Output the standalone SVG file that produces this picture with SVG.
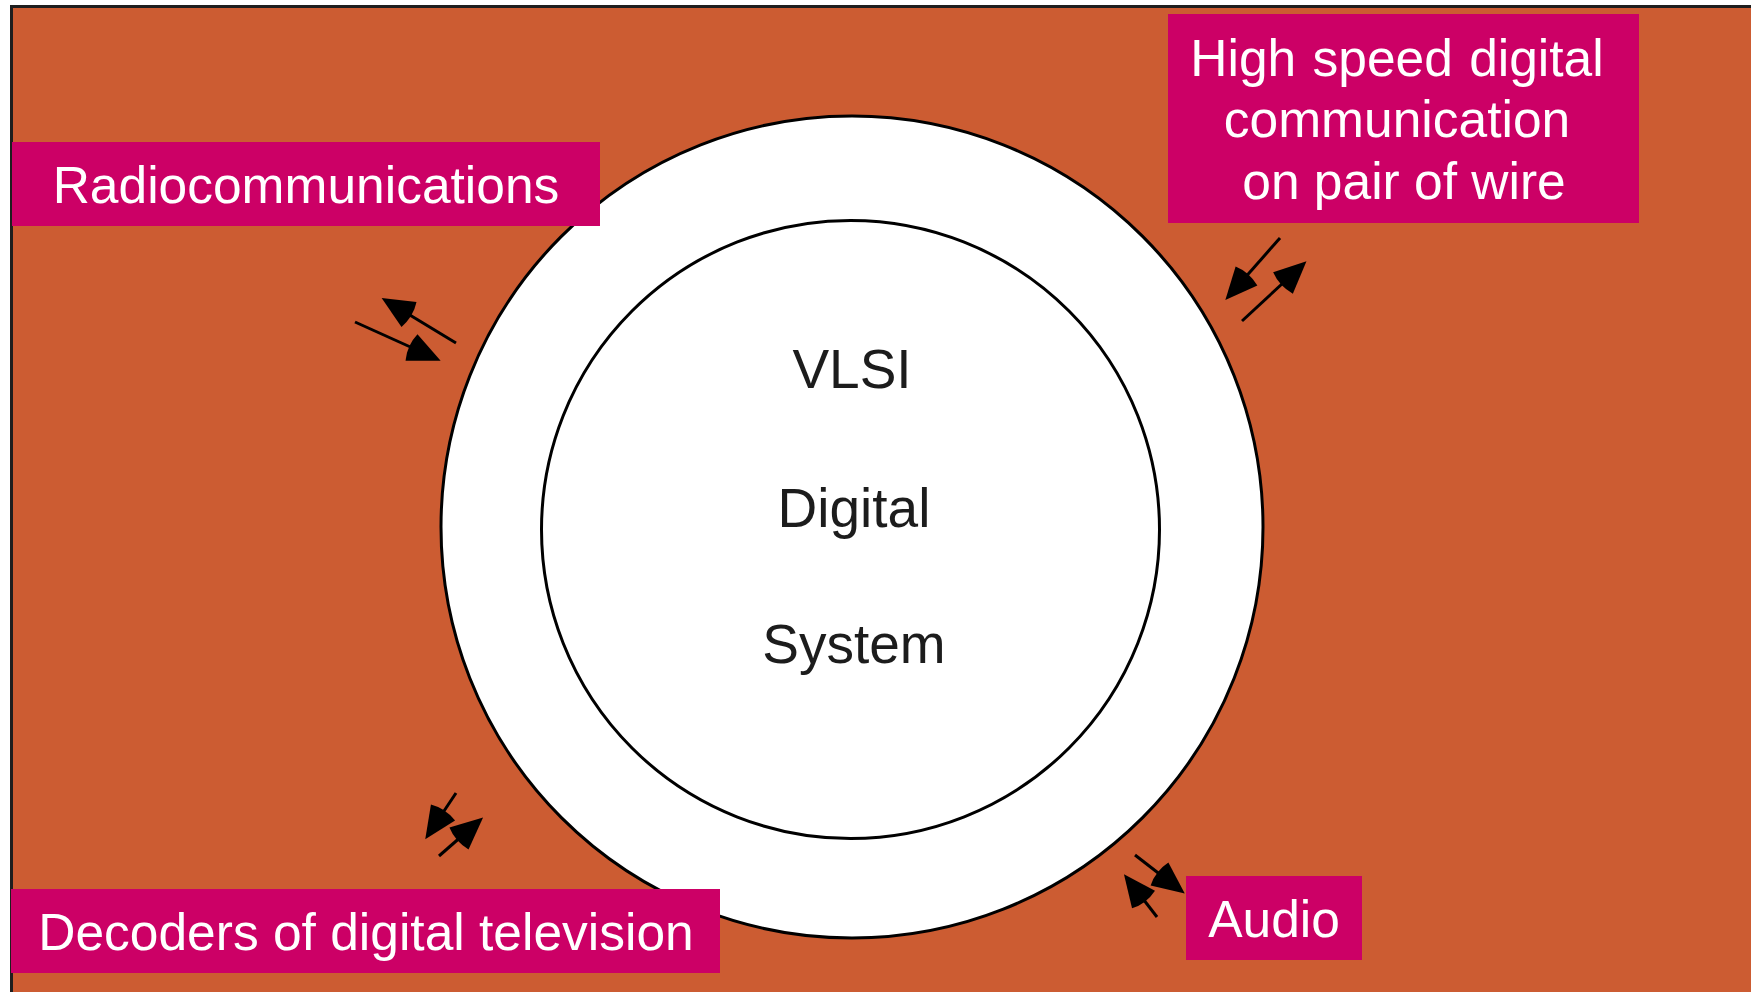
<svg xmlns="http://www.w3.org/2000/svg" width="1751" height="992" viewBox="0 0 1751 992">
  <style>
    .frame { fill: #CC5C32; stroke: #1e1e1e; stroke-width: 3; }
    .ring { fill: #FFFFFF; stroke: #000000; stroke-width: 3; }
    .label-box { fill: #CC0066; }
    .label { font-family: "Liberation Sans", Arial, sans-serif; font-size: 51.5px; fill: #FFFFFF; text-anchor: middle; }
    .core { font-family: "Liberation Sans", Arial, sans-serif; font-size: 55px; fill: #1c1c1c; text-anchor: middle; }
    .link { fill: none; stroke: #000000; stroke-width: 3; marker-end: url(#head); }
  </style>
  <defs>
    <!-- filled arrowhead with a slightly rounded back, drawn ahead of the line end -->
    <marker id="head" markerUnits="userSpaceOnUse" orient="auto" refX="0" refY="0" markerWidth="40" markerHeight="40" overflow="visible">
      <path d="M32,0 L0,-14.5 Q-5,0 0,14.5 Z" fill="#000000"/>
    </marker>
  </defs>

  <rect x="0" y="0" width="1751" height="992" fill="#FFFFFF"/>
  <rect class="frame" x="11.5" y="6.5" width="1760" height="1000"/>

  <!-- central system -->
  <g id="system">
    <circle class="ring" cx="852" cy="527" r="411"/>
    <circle class="ring" cx="850.5" cy="529.5" r="309"/>
    <text class="core" x="852" y="388">VLSI</text>
    <text class="core" x="854" y="527">Digital</text>
    <text class="core" x="854" y="663">System</text>
  </g>

  <!-- bidirectional links between the system and each application -->
  <g id="connectors">
    <path class="link" d="M456,343 L409,314.5"/>
    <path class="link" d="M355,322 L411.5,347.5"/>
    <path class="link" d="M1280,238 L1246.5,276"/>
    <path class="link" d="M1242,321 L1283,283"/>
    <path class="link" d="M456,793 L443,812.5"/>
    <path class="link" d="M439,856 L459,838.5"/>
    <path class="link" d="M1135,855 L1159.5,874"/>
    <path class="link" d="M1157,917 L1143.5,899.5"/>
  </g>

  <g id="radiocommunications">
    <rect class="label-box" x="12" y="142" width="588" height="84"/>
    <text class="label" x="306" y="203">Radiocommunications</text>
  </g>

  <g id="high-speed-comm">
    <rect class="label-box" x="1168" y="14" width="471" height="209"/>
    <text class="label" x="1397" y="76" word-spacing="2">High speed digital</text>
    <text class="label" x="1397" y="137">communication</text>
    <text class="label" x="1404" y="199">on pair of wire</text>
  </g>

  <g id="digital-tv">
    <rect class="label-box" x="11" y="889" width="709" height="84"/>
    <text class="label" x="366" y="950">Decoders of digital television</text>
  </g>

  <g id="audio">
    <rect class="label-box" x="1186" y="876" width="176" height="84"/>
    <text class="label" x="1274" y="937">Audio</text>
  </g>
</svg>
